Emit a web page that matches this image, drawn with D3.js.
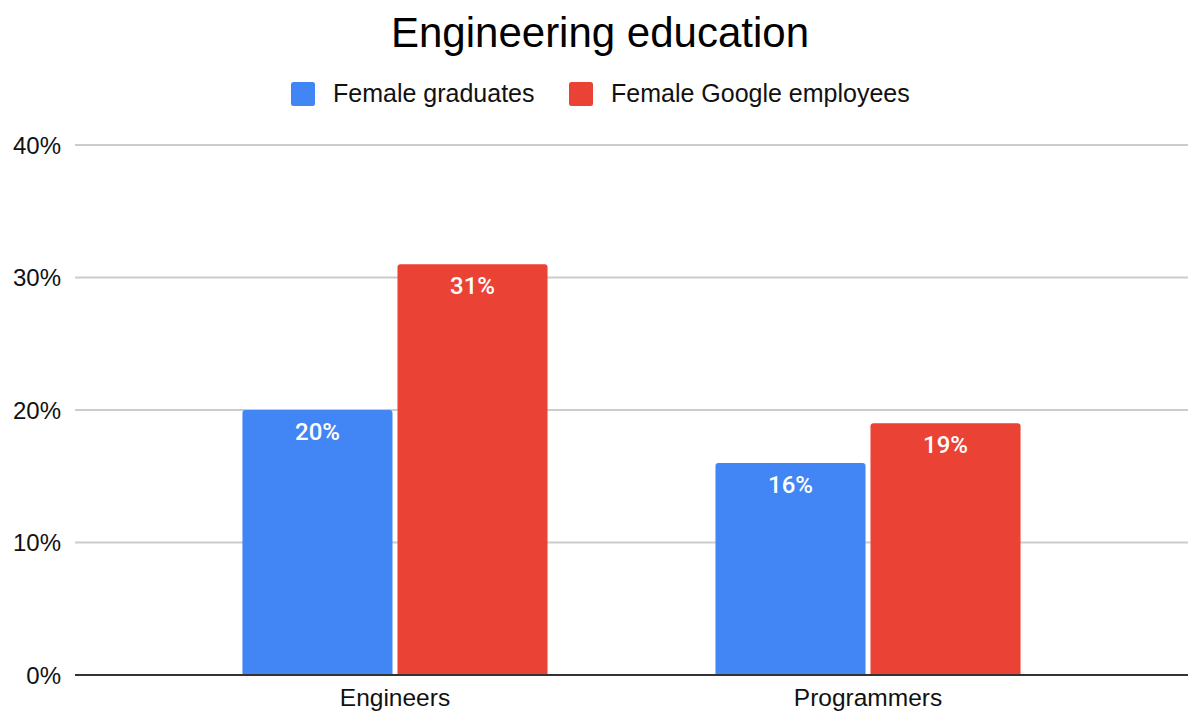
<!DOCTYPE html>
<html>
<head>
<meta charset="utf-8">
<script src="https://cdn.jsdelivr.net/npm/d3@7"></script>
<style>
  html, body { margin: 0; padding: 0; background: #fff; }
  svg { display: block; }
</style>
</head>
<body>
<svg id="chart" width="1188" height="713"></svg>
<script>
// Chart data
const categories = ["Engineers", "Programmers"];
const seriesNames = ["Female graduates", "Female Google employees"];
const femaleGraduates = [20, 16];
const femaleGoogleEmployees = [31, 19];
const yTicks = [0, 10, 20, 30, 40];
const titleText = "Engineering education";

const colors = ["#4285F4", "#EA4335"];
const seriesValues = [femaleGraduates, femaleGoogleEmployees];

const width = 1188, height = 713;
const margin = { left: 75, right: 0, top: 145, bottom: 38 };
const svg = d3.select("#chart");

const x0 = d3.scaleBand()
  .domain(categories)
  .range([margin.left, width - margin.right])
  .paddingInner(0.355)
  .paddingOuter(0.354);

const x1 = d3.scaleBand()
  .domain(seriesNames)
  .range([0, x0.bandwidth()])
  .paddingInner(0.032);

const y = d3.scaleLinear()
  .domain([0, 40])
  .range([height - margin.bottom, margin.top]);

// Gridlines
svg.append("g")
  .selectAll("line")
  .data(yTicks.filter(d => d !== 0))
  .join("line")
  .attr("x1", margin.left)
  .attr("x2", width)
  .attr("y1", d => y(d))
  .attr("y2", d => y(d))
  .attr("stroke", "#cccccc")
  .attr("stroke-width", 2);

// Y tick labels
svg.append("g")
  .selectAll("text")
  .data(yTicks)
  .join("text")
  .attr("x", 61)
  .attr("y", d => y(d) + 8.5)
  .attr("text-anchor", "end")
  .attr("font-family", "Liberation Sans, Arial, sans-serif")
  .attr("font-size", 24)
  .attr("fill", "#111")
  .text(d => d + "%");

// Bars: flat bottom, slightly rounded top corners
function barPath(x, yTop, w, yBase, r) {
  return `M${x},${yBase}V${yTop + r}Q${x},${yTop} ${x + r},${yTop}H${x + w - r}Q${x + w},${yTop} ${x + w},${yTop + r}V${yBase}Z`;
}

const rows = [];
categories.forEach((c, i) => {
  seriesNames.forEach((s, j) => {
    rows.push({ category: c, series: s, value: seriesValues[j][i], color: colors[j] });
  });
});

const bars = svg.append("g");
bars.selectAll("path")
  .data(rows)
  .join("path")
  .attr("d", d => barPath(x0(d.category) + x1(d.series), y(d.value), x1.bandwidth(), y(0), 3))
  .attr("fill", d => d.color);

// Value labels inside bar tops
bars.selectAll("text")
  .data(rows)
  .join("text")
  .attr("x", d => x0(d.category) + x1(d.series) + x1.bandwidth() / 2)
  .attr("y", d => y(d.value) + 30)
  .attr("text-anchor", "middle")
  .attr("font-family", "Roboto, sans-serif")
  .attr("font-weight", 500)
  .attr("font-size", 24)
  .attr("fill", "#ffffff")
  .text(d => d.value + "%");

// Baseline
svg.append("line")
  .attr("x1", margin.left)
  .attr("x2", width)
  .attr("y1", y(0))
  .attr("y2", y(0))
  .attr("stroke", "#333333")
  .attr("stroke-width", 2);

// Category labels
svg.append("g")
  .selectAll("text")
  .data(categories)
  .join("text")
  .attr("x", d => x0(d) + x0.bandwidth() / 2)
  .attr("y", 706)
  .attr("text-anchor", "middle")
  .attr("font-family", "Liberation Sans, Arial, sans-serif")
  .attr("font-size", 24.5)
  .attr("fill", "#111")
  .text(d => d);

// Title
svg.append("text")
  .attr("x", 600)
  .attr("y", 47)
  .attr("text-anchor", "middle")
  .attr("font-family", "Liberation Sans, Arial, sans-serif")
  .attr("font-size", 42)
  .attr("fill", "#000")
  .text(titleText);

// Legend
const legendX = [291, 569];
const legend = svg.append("g")
  .selectAll("g")
  .data(seriesNames)
  .join("g")
  .attr("transform", (d, i) => `translate(${legendX[i]},82)`);
legend.append("rect")
  .attr("width", 24)
  .attr("height", 24)
  .attr("rx", 2.5)
  .attr("fill", (d, i) => colors[i]);
legend.append("text")
  .attr("x", 42)
  .attr("y", 20)
  .attr("font-family", "Liberation Sans, Arial, sans-serif")
  .attr("font-size", 25)
  .attr("fill", "#111")
  .text(d => d);
</script>
</body>
</html>
